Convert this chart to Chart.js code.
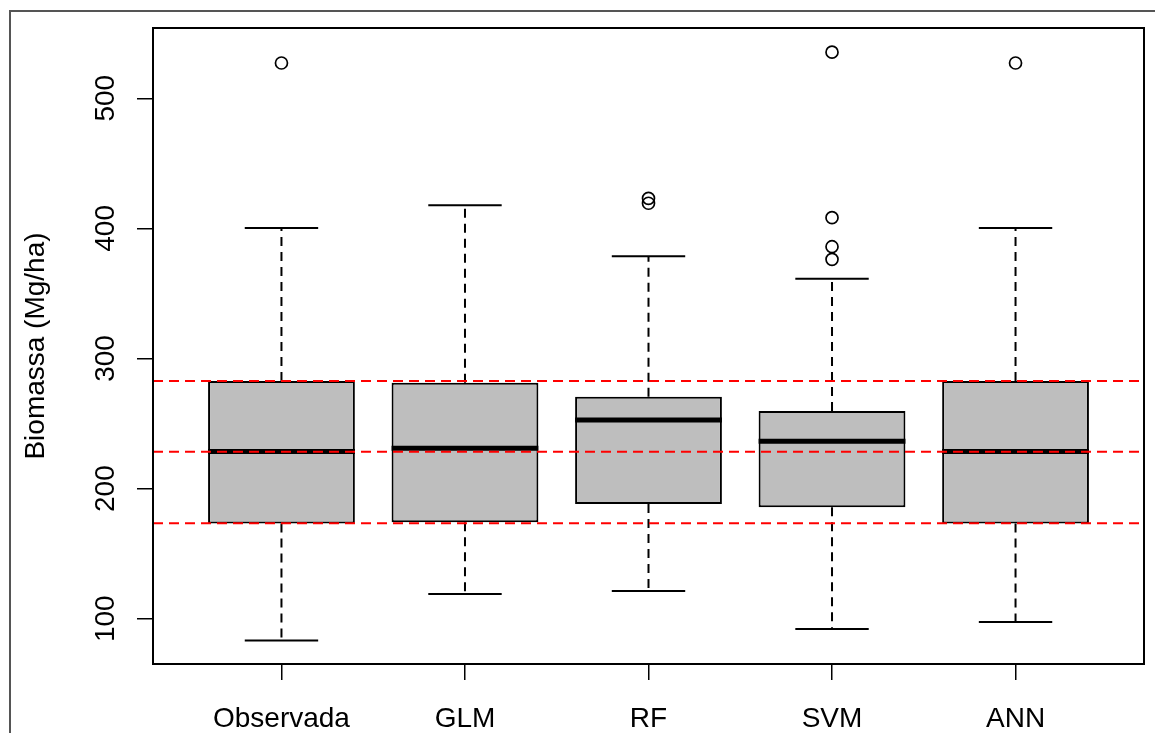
<!DOCTYPE html>
<html>
<head>
<meta charset="utf-8">
<script src="https://cdn.jsdelivr.net/npm/chart.js@4.4.1/dist/chart.umd.min.js"></script>
<style>
html, body { margin: 0; padding: 0; background: #fff; }
#wrap { width: 1155px; height: 733px; }
</style>
</head>
<body>
<div id="wrap"><canvas id="boxChart"></canvas></div>
<script>
const categories = ['Observada', 'GLM', 'RF', 'SVM', 'ANN'];
const lowerWhisker = [83.3, 119.0, 121.3, 92.1, 97.5];
const q1 = [173.2, 174.1, 188.2, 185.6, 173.2];
const median = [228.5, 231.0, 252.7, 236.4, 228.5];
const q3 = [282.7, 281.4, 270.6, 259.6, 282.7];
const upperWhisker = [400.3, 417.8, 378.6, 361.3, 400.3];
const outliers = [[527.1], [], [423.1, 419.3], [535.4, 408.2, 385.9, 376.2], [527.1]];
const refLines = [173.3, 228.4, 282.7];

const xMin = 0.3, xMax = 5.7;
const boxHalf = 0.4, capHalf = 0.2;
const FONT = "'Liberation Sans', Arial, sans-serif";

// turn a list of [x0,y0,x1,y1] into one line with gaps between pieces
const segments = (list) => {
	const out = [];
	list.forEach(s => {
		out.push({x: s[0], y: s[1]}, {x: s[2], y: s[3]}, {x: s[2], y: null});
	});
	return out;
};

const pos = categories.map((c, i) => i + 1);

const boxData = pos.map((x, i) => ({x: x, y: [q1[i], q3[i]]}));
const medianData = segments(pos.map((x, i) => [x - boxHalf, median[i], x + boxHalf, median[i]]));
const whiskerData = segments(pos.flatMap((x, i) => [
	[x, q3[i], x, upperWhisker[i]],
	[x, q1[i], x, lowerWhisker[i]]
]));
const capData = segments(pos.flatMap((x, i) => [
	[x - capHalf, upperWhisker[i], x + capHalf, upperWhisker[i]],
	[x - capHalf, lowerWhisker[i], x + capHalf, lowerWhisker[i]]
]));
const outlierData = pos.flatMap((x, i) => outliers[i].map(v => ({x: x, y: v})));
const refData = segments(refLines.map(v => [xMin, v, xMax, v]));

const framePlugin = {
	id: 'frame',
	beforeDraw(chart) {
		const ctx = chart.ctx;
		ctx.save();
		ctx.fillStyle = '#fff';
		ctx.fillRect(0, 0, chart.width, chart.height);
		ctx.restore();
	},
	afterDraw(chart) {
		const {ctx, chartArea: a} = chart;
		ctx.save();
		ctx.strokeStyle = '#000';
		ctx.lineWidth = 2;
		ctx.strokeRect(a.left, a.top, a.right - a.left, a.bottom - a.top);
		ctx.strokeStyle = '#555';
		ctx.lineWidth = 2;
		ctx.strokeRect(10, 11, 1300, 900);
		ctx.restore();
	}
};

new Chart(document.getElementById('boxChart'), {
	type: 'bar',
	data: {
		datasets: [
			{
				type: 'line',
				data: refData,
				borderColor: '#ff0000',
				borderWidth: 2,
				borderDash: [10, 6],
				pointRadius: 0,
				spanGaps: false,
				order: 0
			},
			{
				type: 'line',
				data: medianData,
				borderColor: '#000',
				borderWidth: 5,
				borderCapStyle: 'butt',
				pointRadius: 0,
				spanGaps: false,
				order: 1
			},
			{
				type: 'line',
				data: outlierData,
				showLine: false,
				pointRadius: 6,
				pointBorderWidth: 1.7,
				pointBorderColor: '#000',
				pointBackgroundColor: 'rgba(0,0,0,0)',
				order: 2
			},
			{
				type: 'bar',
				data: boxData,
				backgroundColor: '#bebebe',
				borderColor: '#000',
				borderWidth: 2,
				borderSkipped: false,
				barPercentage: 0.8,
				categoryPercentage: 1,
				order: 3
			},
			{
				type: 'line',
				data: whiskerData,
				borderColor: '#000',
				borderWidth: 2,
				borderDash: [9, 6],
				pointRadius: 0,
				spanGaps: false,
				order: 4
			},
			{
				type: 'line',
				data: capData,
				borderColor: '#000',
				borderWidth: 2,
				pointRadius: 0,
				spanGaps: false,
				order: 4
			}
		]
	},
	options: {
		responsive: true,
		maintainAspectRatio: false,
		animation: false,
		layout: { padding: { top: 28, right: 11, left: 0, bottom: 0 } },
		plugins: {
			legend: { display: false },
			tooltip: { enabled: false }
		},
		scales: {
			x: {
				type: 'linear',
				min: xMin,
				max: xMax,
				offset: false,
				afterFit: s => { s.height = 69; },
				border: { display: false },
				grid: {
					offset: false,
					drawOnChartArea: false,
					drawTicks: true,
					tickLength: 16,
					color: '#000',
					lineWidth: 1.5
				},
				ticks: {
					stepSize: 1,
					includeBounds: false,
					autoSkip: false,
					maxRotation: 0,
					padding: 22,
					color: '#000',
					font: { size: 28, family: FONT },
					callback: v => categories[Math.round(v) - 1] || ''
				}
			},
			y: {
				min: 65.2,
				max: 554,
				afterFit: s => { s.width = 153; },
				border: { display: false },
				grid: {
					drawOnChartArea: false,
					drawTicks: true,
					tickLength: 16,
					color: '#000',
					lineWidth: 1.5
				},
				ticks: {
					stepSize: 100,
					includeBounds: false,
					minRotation: 90,
					maxRotation: 90,
					crossAlign: 'center',
					padding: 7,
					color: '#000',
					font: { size: 28, family: FONT }
				},
				title: {
					display: true,
					text: 'Biomassa (Mg/ha)',
					color: '#000',
					font: { size: 28, family: FONT },
					padding: { top: 19, bottom: 0 }
				}
			}
		}
	},
	plugins: [framePlugin]
});
</script>
</body>
</html>
